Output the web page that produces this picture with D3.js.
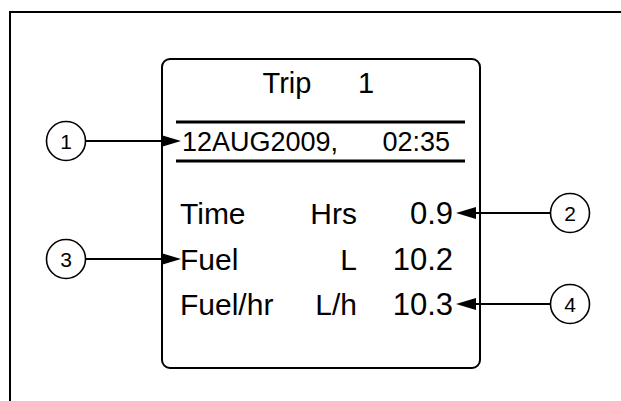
<!DOCTYPE html>
<html>
<head>
<meta charset="utf-8">
<script src="https://cdn.jsdelivr.net/npm/d3@7"></script>
<style>
  html, body { margin: 0; padding: 0; background: #fff; }
  svg { display: block; }
  text { font-family: "Liberation Sans", Arial, Helvetica, sans-serif; fill: #000; }
</style>
</head>
<body>
<svg id="chart"></svg>
<script>
/* ── Data ─────────────────────────────────────────────── */
const TRIP_LABEL  = 'Trip';
const TRIP_NUMBER = 1;
const TRIP_DATE   = '12AUG2009,';
const TRIP_CLOCK  = '02:35';

const ROW_LABELS = ['Time', 'Fuel', 'Fuel/hr'];
const ROW_UNITS  = ['Hrs', 'L', 'L/h'];
const ROW_VALUES = [0.9, 10.2, 10.3];

// callout number -> which line it points at, and which side it sits on
const CALLOUT_IDS     = [1, 2, 3, 4];
const CALLOUT_TARGETS = ['date', 'Time', 'Fuel', 'Fuel/hr'];
const CALLOUT_SIDES   = ['left', 'right', 'left', 'right'];

/* ── Layout ───────────────────────────────────────────── */
const W = 621, H = 401;
const svg = d3.select('#chart').attr('width', W).attr('height', H);

const BOX = { x0: 162, x1: 480, y0: 59, y1: 368, r: 8 };
const FS  = 30;

// vertical positions (text mid-line)
const yLine = d3.scaleOrdinal()
  .domain(['trip', 'date'].concat(ROW_LABELS))
  .range([83, 141, 213, 259, 304]);

// column anchors inside the display box
const xCol = d3.scaleOrdinal()
  .domain(['label', 'unit', 'value', 'dateL', 'dateR'])
  .range([180, 357, 453, 182, 450]);

const fmt = d3.format('.1f');

// Outer frame (top + left only)
svg.append('path')
  .attr('d', `M10,${H} V12 H${W}`)
  .attr('fill', 'none')
  .attr('stroke', '#000')
  .attr('stroke-width', 2);

// Display box
svg.append('rect')
  .attr('x', BOX.x0).attr('y', BOX.y0)
  .attr('width', BOX.x1 - BOX.x0).attr('height', BOX.y1 - BOX.y0)
  .attr('rx', BOX.r)
  .attr('fill', 'none')
  .attr('stroke', '#000')
  .attr('stroke-width', 2);

// Title
const title = svg.append('g').attr('class', 'title');
title.append('text')
  .attr('x', 287).attr('y', yLine('trip')).attr('dy', '0.36em')
  .attr('text-anchor', 'middle')
  .attr('font-size', 29)
  .text(TRIP_LABEL);
title.append('text')
  .attr('x', 366).attr('y', yLine('trip')).attr('dy', '0.36em')
  .attr('text-anchor', 'middle')
  .attr('font-size', 29)
  .text(TRIP_NUMBER);

// Date rules
[122, 161].forEach(y => {
  svg.append('line')
    .attr('x1', 176).attr('x2', 465)
    .attr('y1', y).attr('y2', y)
    .attr('stroke', '#000')
    .attr('stroke-width', 3);
});

svg.append('text')
  .attr('x', xCol('dateL')).attr('y', yLine('date')).attr('dy', '0.36em')
  .attr('font-size', 27)
  .text(TRIP_DATE);
svg.append('text')
  .attr('x', xCol('dateR')).attr('y', yLine('date')).attr('dy', '0.36em')
  .attr('text-anchor', 'end')
  .attr('font-size', 27)
  .text(TRIP_CLOCK);

// Data rows
const rows = svg.append('g').attr('class', 'rows')
  .selectAll('g')
  .data(ROW_LABELS.map((l, i) => ({ label: l, unit: ROW_UNITS[i], value: ROW_VALUES[i] })))
  .join('g')
  .attr('transform', d => `translate(0, ${yLine(d.label)})`);

rows.append('text')
  .attr('x', xCol('label')).attr('dy', '0.36em')
  .attr('font-size', FS)
  .text(d => d.label);
rows.append('text')
  .attr('x', xCol('unit')).attr('dy', '0.36em')
  .attr('text-anchor', 'end')
  .attr('font-size', FS)
  .text(d => d.unit);
rows.append('text')
  .attr('x', xCol('value')).attr('dy', '0.36em')
  .attr('text-anchor', 'end')
  .attr('font-size', FS + 1)
  .text(d => fmt(d.value));

/* ── Callouts ─────────────────────────────────────────── */
const CIRC = { left: 66, right: 570, r: 19.5 };
const TIP  = { left: 181, right: 456 };
const HEAD_L = 20, HEAD_W = 6;

const callouts = svg.append('g').attr('class', 'callouts')
  .selectAll('g')
  .data(CALLOUT_IDS.map((id, i) => ({ id, target: CALLOUT_TARGETS[i], side: CALLOUT_SIDES[i] })))
  .join('g')
  .attr('transform', d => `translate(0, ${yLine(d.target)})`);

callouts.each(function (d) {
  const g = d3.select(this);
  const cx = CIRC[d.side];
  const dir = d.side === 'left' ? 1 : -1;          // arrow direction
  const start = cx + dir * CIRC.r;
  const tip = TIP[d.side];
  const base = tip - dir * HEAD_L;

  g.append('line')
    .attr('x1', start).attr('x2', base)
    .attr('y1', 0).attr('y2', 0)
    .attr('stroke', '#000')
    .attr('stroke-width', 2);

  g.append('polygon')
    .attr('points', `${tip},0 ${base},${-HEAD_W} ${base},${HEAD_W}`)
    .attr('fill', '#000');

  g.append('circle')
    .attr('cx', cx).attr('cy', 0)
    .attr('r', CIRC.r)
    .attr('fill', '#fff')
    .attr('stroke', '#000')
    .attr('stroke-width', 1.6);

  g.append('text')
    .attr('x', cx).attr('dy', '0.36em')
    .attr('text-anchor', 'middle')
    .attr('font-size', 21)
    .text(d.id);
});
</script>
</body>
</html>
